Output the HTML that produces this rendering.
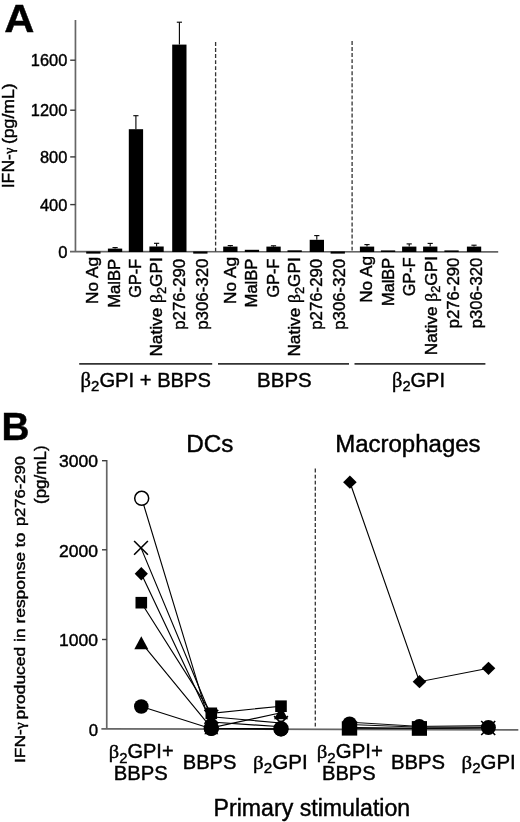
<!DOCTYPE html>
<html lang="en">
<head>
<meta charset="utf-8">
<title>Figure: IFN-gamma production</title>
<style>
html,body{margin:0;padding:0;background:#fff;}
body{width:520px;height:822px;overflow:hidden;}
svg{display:block;}
svg text{font-family:"Liberation Sans", sans-serif;fill:#000;stroke:#000;stroke-width:0.42px;}
</style>
</head>
<body>
<svg width="520" height="822" viewBox="0 0 520 822" role="img" aria-label="Panel A: IFN-gamma bar chart; Panel B: IFN-gamma in response to p276-290 for DCs and macrophages">
<rect width="520" height="822" fill="#fff"/>
<g id="panel-a">
<text transform="translate(4.3 32.0) scale(1.07 1)" font-size="39.0" font-weight="bold" stroke="#000" stroke-width="1.5" stroke-linejoin="miter">A</text>
<line x1="75.45" y1="20" x2="75.45" y2="251.6" stroke="#666" stroke-width="1.7"/>
<line x1="70.0" y1="251.6" x2="498.2" y2="251.9" stroke="#666" stroke-width="1.7"/>
<line x1="70.2" y1="60.2" x2="75.45" y2="60.2" stroke="#3a3a3a" stroke-width="1.4"/>
<text x="67.3" y="66.3" font-size="16.4" text-anchor="end">1600</text>
<line x1="70.2" y1="110.2" x2="75.45" y2="110.2" stroke="#3a3a3a" stroke-width="1.4"/>
<text x="67.3" y="116.3" font-size="16.4" text-anchor="end">1200</text>
<line x1="70.2" y1="156.9" x2="75.45" y2="156.9" stroke="#3a3a3a" stroke-width="1.4"/>
<text x="67.3" y="163.0" font-size="16.4" text-anchor="end">800</text>
<line x1="70.2" y1="204.6" x2="75.45" y2="204.6" stroke="#3a3a3a" stroke-width="1.4"/>
<text x="67.3" y="210.7" font-size="16.4" text-anchor="end">400</text>
<text x="67.6" y="257.7" font-size="16.6" text-anchor="end">0</text>
<text transform="translate(14.1 188.3) rotate(-90)" font-size="16.6" textLength="105.0" lengthAdjust="spacingAndGlyphs">IFN-<tspan font-family='"Liberation Serif", serif' font-size="13.6">γ</tspan><tspan dx="-1.3"> (pg/mL)</tspan></text>
<line x1="215.6" y1="42.0" x2="215.6" y2="251.6" stroke="#333" stroke-width="1.3" stroke-dasharray="3.9 2.15"/>
<line x1="352.1" y1="41.0" x2="352.1" y2="251.6" stroke="#333" stroke-width="1.3" stroke-dasharray="3.9 2.15"/>
<rect x="86.2" y="251.5" width="14.3" height="2.1" fill="#000"/>
<rect x="107.9" y="248.6" width="14.3" height="3.4" fill="#000"/>
<line x1="115.1" y1="248.6" x2="115.1" y2="247.6" stroke="#000" stroke-width="1.1"/>
<line x1="112.5" y1="247.6" x2="117.7" y2="247.6" stroke="#000" stroke-width="1.1"/>
<rect x="128.8" y="129.2" width="14.3" height="122.8" fill="#000"/>
<line x1="135.9" y1="129.2" x2="135.9" y2="115.7" stroke="#000" stroke-width="1.1"/>
<line x1="133.3" y1="115.7" x2="138.5" y2="115.7" stroke="#000" stroke-width="1.1"/>
<rect x="149.4" y="246.5" width="14.3" height="5.5" fill="#000"/>
<line x1="156.6" y1="246.5" x2="156.6" y2="243.3" stroke="#000" stroke-width="1.1"/>
<line x1="154.0" y1="243.3" x2="159.2" y2="243.3" stroke="#000" stroke-width="1.1"/>
<rect x="172.2" y="44.6" width="14.3" height="207.4" fill="#000"/>
<line x1="179.4" y1="44.6" x2="179.4" y2="22.2" stroke="#000" stroke-width="1.1"/>
<line x1="176.8" y1="22.2" x2="182.0" y2="22.2" stroke="#000" stroke-width="1.1"/>
<rect x="193.2" y="251.5" width="14.3" height="2.1" fill="#000"/>
<rect x="223.2" y="246.6" width="14.3" height="5.4" fill="#000"/>
<line x1="230.3" y1="246.6" x2="230.3" y2="245.6" stroke="#000" stroke-width="1.1"/>
<line x1="227.7" y1="245.6" x2="232.9" y2="245.6" stroke="#000" stroke-width="1.1"/>
<rect x="244.8" y="249.8" width="14.3" height="2.2" fill="#000"/>
<rect x="266.4" y="246.6" width="14.3" height="5.4" fill="#000"/>
<line x1="273.5" y1="246.6" x2="273.5" y2="245.8" stroke="#000" stroke-width="1.1"/>
<line x1="270.9" y1="245.8" x2="276.1" y2="245.8" stroke="#000" stroke-width="1.1"/>
<rect x="287.5" y="250.3" width="14.3" height="1.7" fill="#000"/>
<rect x="309.7" y="239.8" width="14.3" height="12.2" fill="#000"/>
<line x1="316.8" y1="239.8" x2="316.8" y2="235.6" stroke="#000" stroke-width="1.1"/>
<line x1="314.2" y1="235.6" x2="319.4" y2="235.6" stroke="#000" stroke-width="1.1"/>
<rect x="330.6" y="251.5" width="14.3" height="2.1" fill="#000"/>
<rect x="359.9" y="246.6" width="14.3" height="5.4" fill="#000"/>
<line x1="367.0" y1="246.6" x2="367.0" y2="244.6" stroke="#000" stroke-width="1.1"/>
<line x1="364.4" y1="244.6" x2="369.6" y2="244.6" stroke="#000" stroke-width="1.1"/>
<rect x="380.9" y="250.4" width="14.3" height="1.6" fill="#000"/>
<rect x="402.1" y="246.6" width="14.3" height="5.4" fill="#000"/>
<line x1="409.2" y1="246.6" x2="409.2" y2="243.9" stroke="#000" stroke-width="1.1"/>
<line x1="406.6" y1="243.9" x2="411.8" y2="243.9" stroke="#000" stroke-width="1.1"/>
<rect x="423.1" y="246.6" width="14.3" height="5.4" fill="#000"/>
<line x1="430.2" y1="246.6" x2="430.2" y2="243.4" stroke="#000" stroke-width="1.1"/>
<line x1="427.6" y1="243.4" x2="432.8" y2="243.4" stroke="#000" stroke-width="1.1"/>
<rect x="444.4" y="250.4" width="14.3" height="1.6" fill="#000"/>
<rect x="466.9" y="246.6" width="14.3" height="5.4" fill="#000"/>
<line x1="474.0" y1="246.6" x2="474.0" y2="245.2" stroke="#000" stroke-width="1.1"/>
<line x1="471.4" y1="245.2" x2="476.6" y2="245.2" stroke="#000" stroke-width="1.1"/>
<text transform="translate(98.2 257.0) rotate(-90)" font-size="16.3" text-anchor="end" textLength="47.0" lengthAdjust="spacingAndGlyphs">No Ag</text>
<text transform="translate(120.3 258.9) rotate(-90)" font-size="16.3" text-anchor="end" textLength="48.8" lengthAdjust="spacingAndGlyphs">MalBP</text>
<text transform="translate(140.6 258.8) rotate(-90)" font-size="16.3" text-anchor="end" textLength="38.9" lengthAdjust="spacingAndGlyphs">GP-F</text>
<text transform="translate(162.4 257.2) rotate(-90)" font-size="16.3" text-anchor="end" textLength="99.4" lengthAdjust="spacingAndGlyphs">Native <tspan font-family='"Liberation Serif", serif' font-size="16.6">β</tspan><tspan font-size="12" dy="3.8">2</tspan><tspan dy="-3.8">GPI</tspan></text>
<text transform="translate(184.6 258.8) rotate(-90)" font-size="16.3" text-anchor="end" textLength="71.0" lengthAdjust="spacingAndGlyphs">p276-290</text>
<text transform="translate(207.6 258.6) rotate(-90)" font-size="16.3" text-anchor="end" textLength="71.2" lengthAdjust="spacingAndGlyphs">p306-320</text>
<text transform="translate(235.9 257.0) rotate(-90)" font-size="16.3" text-anchor="end" textLength="47.0" lengthAdjust="spacingAndGlyphs">No Ag</text>
<text transform="translate(257.1 258.6) rotate(-90)" font-size="16.3" text-anchor="end" textLength="48.8" lengthAdjust="spacingAndGlyphs">MalBP</text>
<text transform="translate(278.5 258.6) rotate(-90)" font-size="16.3" text-anchor="end" textLength="38.9" lengthAdjust="spacingAndGlyphs">GP-F</text>
<text transform="translate(299.9 257.2) rotate(-90)" font-size="16.3" text-anchor="end" textLength="99.4" lengthAdjust="spacingAndGlyphs">Native <tspan font-family='"Liberation Serif", serif' font-size="16.6">β</tspan><tspan font-size="12" dy="3.8">2</tspan><tspan dy="-3.8">GPI</tspan></text>
<text transform="translate(321.8 258.8) rotate(-90)" font-size="16.3" text-anchor="end" textLength="71.0" lengthAdjust="spacingAndGlyphs">p276-290</text>
<text transform="translate(344.8 258.8) rotate(-90)" font-size="16.3" text-anchor="end" textLength="71.0" lengthAdjust="spacingAndGlyphs">p306-320</text>
<text transform="translate(372.2 256.0) rotate(-90)" font-size="16.3" text-anchor="end" textLength="46.8" lengthAdjust="spacingAndGlyphs">No Ag</text>
<text transform="translate(393.8 257.8) rotate(-90)" font-size="16.3" text-anchor="end" textLength="48.2" lengthAdjust="spacingAndGlyphs">MalBP</text>
<text transform="translate(415.4 257.4) rotate(-90)" font-size="16.3" text-anchor="end" textLength="38.6" lengthAdjust="spacingAndGlyphs">GP-F</text>
<text transform="translate(436.6 256.0) rotate(-90)" font-size="16.3" text-anchor="end" textLength="99.2" lengthAdjust="spacingAndGlyphs">Native <tspan font-family='"Liberation Serif", serif' font-size="16.6">β</tspan><tspan font-size="12" dy="3.8">2</tspan><tspan dy="-3.8">GPI</tspan></text>
<text transform="translate(458.9 257.8) rotate(-90)" font-size="16.3" text-anchor="end" textLength="70.4" lengthAdjust="spacingAndGlyphs">p276-290</text>
<text transform="translate(482.0 257.8) rotate(-90)" font-size="16.3" text-anchor="end" textLength="70.4" lengthAdjust="spacingAndGlyphs">p306-320</text>
<line x1="79.2" y1="363.9" x2="212.2" y2="363.9" stroke="#333" stroke-width="1.7"/>
<line x1="218.0" y1="363.9" x2="349.0" y2="363.9" stroke="#333" stroke-width="1.7"/>
<line x1="354.5" y1="363.9" x2="485.4" y2="363.9" stroke="#333" stroke-width="1.7"/>
<text x="80.6" y="386.5" font-size="19.8" text-anchor="start" textLength="130.4" lengthAdjust="spacingAndGlyphs"><tspan font-family='"Liberation Serif", serif' font-size="20.20">β</tspan><tspan font-size="14.65" dy="4.65">2</tspan><tspan dy="-4.65">GPI + BBPS</tspan></text>
<text x="257.1" y="386.5" font-size="19.8" text-anchor="start" textLength="54.6" lengthAdjust="spacingAndGlyphs">BBPS</text>
<text x="392.0" y="386.5" font-size="19.8" text-anchor="start" textLength="53.0" lengthAdjust="spacingAndGlyphs"><tspan font-family='"Liberation Serif", serif' font-size="20.20">β</tspan><tspan font-size="14.65" dy="4.65">2</tspan><tspan dy="-4.65">GPI</tspan></text>
</g>
<g id="panel-b">
<text transform="translate(1.6 440.0) scale(1.01 1)" font-size="38.4" font-weight="bold" stroke="#000" stroke-width="1.4" stroke-linejoin="miter">B</text>
<line x1="106.75" y1="460.0" x2="106.75" y2="728.85" stroke="#666" stroke-width="1.7"/>
<line x1="101.4" y1="728.85" x2="518.3" y2="729.85" stroke="#666" stroke-width="1.7"/>
<line x1="102.0" y1="460.7" x2="106.75" y2="460.7" stroke="#3a3a3a" stroke-width="1.4"/>
<text x="98.0" y="467.4" font-size="16.4" text-anchor="end" textLength="39.0" lengthAdjust="spacingAndGlyphs">3000</text>
<line x1="102.0" y1="549.8" x2="106.75" y2="549.8" stroke="#3a3a3a" stroke-width="1.4"/>
<text x="98.0" y="556.5" font-size="16.4" text-anchor="end" textLength="39.0" lengthAdjust="spacingAndGlyphs">2000</text>
<line x1="102.0" y1="639.5" x2="106.75" y2="639.5" stroke="#3a3a3a" stroke-width="1.4"/>
<text x="98.0" y="646.2" font-size="16.4" text-anchor="end" textLength="39.0" lengthAdjust="spacingAndGlyphs">1000</text>
<text x="98.2" y="736.25" font-size="16.8" text-anchor="end">0</text>
<text transform="translate(25.2 763.0) rotate(-90)" font-size="15.3"><tspan x="0" textLength="230.4" lengthAdjust="spacingAndGlyphs">IFN-<tspan font-family='"Liberation Serif", serif' font-size="13.8">γ</tspan><tspan dx="-1.8"> produced in response to</tspan></tspan><tspan x="236.9" textLength="70.1" lengthAdjust="spacingAndGlyphs">p276-290</tspan></text>
<text transform="translate(45.6 504.0) rotate(-90)" font-size="16.4" textLength="58.6" lengthAdjust="spacingAndGlyphs">(pg/mL)</text>
<text x="186.2" y="452.0" font-size="23" text-anchor="start" textLength="47.2" lengthAdjust="spacingAndGlyphs">DCs</text>
<text x="335.2" y="451.7" font-size="23" text-anchor="start" textLength="145.4" lengthAdjust="spacingAndGlyphs">Macrophages</text>
<line x1="315.3" y1="468.6" x2="315.3" y2="728.85" stroke="#333" stroke-width="1.3" stroke-dasharray="3.9 2.15"/>
<polyline points="141.7,498.3 211.3,728.3 281.0,728.8" fill="none" stroke="#000" stroke-width="1.15"/>
<polyline points="141.3,573.7 211.3,722.0 281.0,726.8" fill="none" stroke="#000" stroke-width="1.15"/>
<polyline points="141.0,547.9 211.3,716.8 281.0,723.0" fill="none" stroke="#000" stroke-width="1.15"/>
<polyline points="141.3,642.7 211.3,727.8 281.0,712.7" fill="none" stroke="#000" stroke-width="1.15"/>
<polyline points="141.3,602.7 211.3,713.3 281.0,706.2" fill="none" stroke="#000" stroke-width="1.15"/>
<polyline points="141.3,706.5 211.3,728.7 281.0,729.2" fill="none" stroke="#000" stroke-width="1.15"/>
<circle cx="141.7" cy="498.3" r="7.0" fill="#fff" stroke="#000" stroke-width="1.5"/>
<circle cx="211.3" cy="728.3" r="7.0" fill="#fff" stroke="#000" stroke-width="1.5"/>
<circle cx="281.0" cy="728.8" r="7.0" fill="#fff" stroke="#000" stroke-width="1.5"/>
<path d="M141.3 567.0L147.9 573.7L141.3 580.4L134.7 573.7Z" fill="#000"/>
<path d="M211.3 715.3L217.9 722.0L211.3 728.7L204.7 722.0Z" fill="#000"/>
<path d="M281.0 720.1L287.6 726.8L281.0 733.5L274.4 726.8Z" fill="#000"/>
<path d="M134.1 541.0L147.9 554.8M134.1 554.8L147.9 541.0" stroke="#000" stroke-width="1.6" fill="none"/>
<path d="M204.4 709.9L218.2 723.7M204.4 723.7L218.2 709.9" stroke="#000" stroke-width="1.6" fill="none"/>
<path d="M274.1 716.1L287.9 729.9M274.1 729.9L287.9 716.1" stroke="#000" stroke-width="1.6" fill="none"/>
<path d="M141.3 636.2L148.3 649.2L134.3 649.2Z" fill="#000"/>
<path d="M211.3 721.3L218.3 734.3L204.3 734.3Z" fill="#000"/>
<path d="M281.0 706.2L288.0 719.2L274.0 719.2Z" fill="#000"/>
<rect x="135.50" y="596.90" width="11.6" height="11.6" fill="#000"/>
<rect x="205.50" y="707.50" width="11.6" height="11.6" fill="#000"/>
<rect x="275.20" y="700.40" width="11.6" height="11.6" fill="#000"/>
<circle cx="141.3" cy="706.5" r="7.3" fill="#000"/>
<circle cx="211.3" cy="728.7" r="7.3" fill="#000"/>
<circle cx="281.0" cy="729.2" r="7.3" fill="#000"/>
<polyline points="349.9,482.2 419.5,681.7 488.5,668.3" fill="none" stroke="#000" stroke-width="1.15"/>
<polyline points="349.6,722.2 419.3,726.4 488.3,725.6" fill="none" stroke="#000" stroke-width="0.95"/>
<polyline points="349.6,724.5 419.3,727.2 488.3,727.0" fill="none" stroke="#000" stroke-width="0.95"/>
<polyline points="349.6,727.4 419.3,728.2 488.3,727.6" fill="none" stroke="#000" stroke-width="0.95"/>
<polyline points="349.6,728.6 419.3,728.6 488.3,728.2" fill="none" stroke="#000" stroke-width="0.95"/>
<rect x="341.8" y="721.3" width="15.4" height="14.3" fill="#000"/>
<rect x="411.8" y="721.1" width="15.2" height="14.7" fill="#000"/>
<circle cx="349.6" cy="723.7" r="7.3" fill="#000"/>
<circle cx="419.3" cy="726.3" r="7.3" fill="#000"/>
<path d="M481.2 721.0L495.2 735.0M481.2 735.0L495.2 721.0" stroke="#000" stroke-width="1.6" fill="none"/>
<circle cx="488.4" cy="727.5" r="7.5" fill="#000"/>
<path d="M349.9 475.6L356.7 482.2L349.9 488.8L343.1 482.2Z" fill="#000"/>
<path d="M419.5 675.1L426.3 681.7L419.5 688.3L412.7 681.7Z" fill="#000"/>
<path d="M488.5 661.7L495.3 668.3L488.5 674.9L481.7 668.3Z" fill="#000"/>
<text x="108.8" y="758.4" font-size="19.4" text-anchor="start" textLength="64.8" lengthAdjust="spacingAndGlyphs"><tspan font-family='"Liberation Serif", serif' font-size="19.79">β</tspan><tspan font-size="14.36" dy="4.56">2</tspan><tspan dy="-4.56">GPI+</tspan></text>
<text x="113.8" y="779.7" font-size="19.4" text-anchor="start" textLength="54.0" lengthAdjust="spacingAndGlyphs">BBPS</text>
<text x="182.8" y="768.6" font-size="19.4" text-anchor="start" textLength="53.6" lengthAdjust="spacingAndGlyphs">BBPS</text>
<text x="253.0" y="768.6" font-size="19.4" text-anchor="start" textLength="54.6" lengthAdjust="spacingAndGlyphs"><tspan font-family='"Liberation Serif", serif' font-size="19.79">β</tspan><tspan font-size="14.36" dy="4.56">2</tspan><tspan dy="-4.56">GPI</tspan></text>
<text x="316.8" y="758.4" font-size="19.4" text-anchor="start" textLength="66.0" lengthAdjust="spacingAndGlyphs"><tspan font-family='"Liberation Serif", serif' font-size="19.79">β</tspan><tspan font-size="14.36" dy="4.56">2</tspan><tspan dy="-4.56">GPI+</tspan></text>
<text x="322.0" y="779.7" font-size="19.4" text-anchor="start" textLength="53.6" lengthAdjust="spacingAndGlyphs">BBPS</text>
<text x="391.1" y="768.6" font-size="19.4" text-anchor="start" textLength="54.0" lengthAdjust="spacingAndGlyphs">BBPS</text>
<text x="461.6" y="768.6" font-size="19.4" text-anchor="start" textLength="54.2" lengthAdjust="spacingAndGlyphs"><tspan font-family='"Liberation Serif", serif' font-size="19.79">β</tspan><tspan font-size="14.36" dy="4.56">2</tspan><tspan dy="-4.56">GPI</tspan></text>
<text x="213.6" y="815.7" font-size="23.0" text-anchor="start" textLength="196.6" lengthAdjust="spacingAndGlyphs">Primary stimulation</text>
</g>
</svg>
</body>
</html>
